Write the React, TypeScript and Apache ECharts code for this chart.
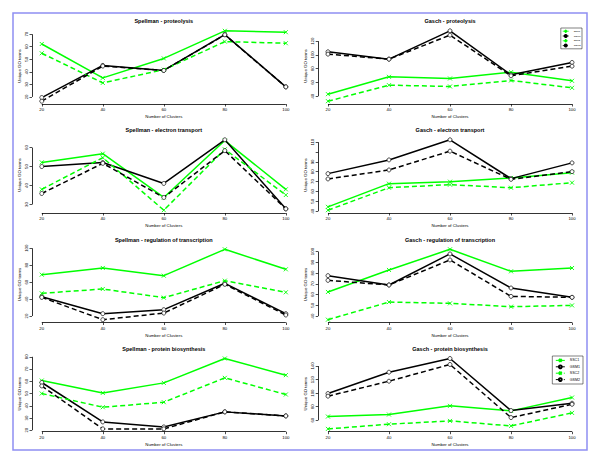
import React, { useEffect, useRef } from "react";
import * as echarts from "echarts";

const clusters = [20, 40, 60, 80, 100];
const seriesNames = ["SSC1", "GSM1", "SSC2", "GSM2"];
const panelTitles = [
  "Spellman - proteolysis",
  "Gasch - proteolysis",
  "Spellman - electron transport",
  "Gasch - electron transport",
  "Spellman - regulation of transcription",
  "Gasch - regulation of transcription",
  "Spellman - protein biosynthesis",
  "Gasch - protein biosynthesis",
];

// Spellman - proteolysis
const spProtSSC1 = [62.2, 35.2, 50.7, 72.7, 71.6];
const spProtGSM1 = [19.5, 45.1, 41.1, 69.7, 28.0];
const spProtSSC2 = [54.8, 31.2, 41.7, 64.1, 62.8];
const spProtGSM2 = [16.6, 44.6, 41.1, 69.5, 28.0];
const spProtTicks = [20, 30, 40, 50, 60, 70];

// Gasch - proteolysis
const gaProtSSC1 = [42.9, 68.1, 65.7, 74.9, 62.3];
const gaProtGSM1 = [104.5, 93.8, 135.0, 71.0, 89.0];
const gaProtSSC2 = [32.7, 56.0, 54.1, 62.8, 52.1];
const gaProtGSM2 = [101.1, 93.8, 128.7, 69.6, 83.6];
const gaProtTicks = [40, 60, 80, 100, 120];

// Spellman - electron transport
const spElecSSC1 = [52.2, 56.8, 33.7, 63.7, 38.0];
const spElecGSM1 = [50.0, 52.1, 41.1, 64.1, 27.7];
const spElecSSC2 = [38.0, 54.7, 27.0, 59.1, 35.0];
const spElecGSM2 = [35.8, 51.7, 33.7, 58.4, 27.7];
const spElecTicks = [30, 40, 50, 60];

// Gasch - electron transport
const gaElecSSC1 = [44.4, 67.9, 69.9, 73.7, 79.1];
const gaElecGSM1 = [78.1, 92.0, 112.4, 73.0, 89.0];
const gaElecSSC2 = [41.0, 63.8, 66.9, 63.8, 68.9];
const gaElecGSM2 = [72.7, 81.8, 100.9, 72.3, 80.1];
const gaElecTicks = [40, 50, 60, 70, 80, 90, 100, 110];
const gaElecLabels = [40, 50, 60, 70, 80, 90, 110];

// Spellman - regulation of transcription
const spRegSSC1 = [68.8, 76.7, 67.6, 98.7, 75.1];
const spRegGSM1 = [42.8, 22.8, 27.5, 58.6, 22.8];
const spRegSSC2 = [46.8, 51.9, 41.7, 61.7, 48.0];
const spRegGSM2 = [42.0, 15.7, 23.5, 57.4, 21.2];
const spRegTicks = [20, 40, 60, 80, 100];

// Gasch - regulation of transcription
const gaRegSSC1 = [62.4, 82.9, 102.1, 81.6, 84.7];
const gaRegGSM1 = [77.6, 68.9, 97.8, 66.1, 57.4];
const gaRegSSC2 = [36.6, 53.0, 51.8, 48.7, 49.9];
const gaRegGSM2 = [73.2, 68.9, 92.2, 58.3, 57.4];
const gaRegTicks = [40, 50, 60, 70, 80, 90, 100];

// Spellman - protein biosynthesis
const spBioSSC1 = [60.6, 50.5, 58.7, 78.6, 65.0];
const spBioGSM1 = [59.0, 26.8, 22.7, 35.0, 31.7];
const spBioSSC2 = [50.0, 38.8, 42.9, 62.8, 49.2];
const spBioGSM2 = [56.2, 21.1, 21.1, 35.0, 31.7];
const spBioTicks = [20, 30, 40, 50, 60, 70, 80];

// Gasch - protein biosynthesis
const gaBioSSC1 = [65.4, 68.4, 81.2, 73.8, 93.5];
const gaBioGSM1 = [99.4, 130.9, 151.1, 74.3, 85.1];
const gaBioSSC2 = [47.2, 54.1, 59.0, 51.6, 70.8];
const gaBioGSM2 = [95.5, 117.6, 142.3, 63.9, 83.5];
const gaBioTicks = [60, 80, 100, 120, 140];

const xTicks = [20, 40, 60, 80, 100];

const panels = [
  { series: [spProtSSC1, spProtGSM1, spProtSSC2, spProtGSM2], ticks: spProtTicks, labels: spProtTicks },
  { series: [gaProtSSC1, gaProtGSM1, gaProtSSC2, gaProtGSM2], ticks: gaProtTicks, labels: gaProtTicks },
  { series: [spElecSSC1, spElecGSM1, spElecSSC2, spElecGSM2], ticks: spElecTicks, labels: spElecTicks },
  { series: [gaElecSSC1, gaElecGSM1, gaElecSSC2, gaElecGSM2], ticks: gaElecTicks, labels: gaElecLabels },
  { series: [spRegSSC1, spRegGSM1, spRegSSC2, spRegGSM2], ticks: spRegTicks, labels: spRegTicks },
  { series: [gaRegSSC1, gaRegGSM1, gaRegSSC2, gaRegGSM2], ticks: gaRegTicks, labels: gaRegTicks },
  { series: [spBioSSC1, spBioGSM1, spBioSSC2, spBioGSM2], ticks: spBioTicks, labels: spBioTicks },
  { series: [gaBioSSC1, gaBioGSM1, gaBioSSC2, gaBioGSM2], ticks: gaBioTicks, labels: gaBioTicks },
];

const FONT = "Liberation Sans";
const GREEN = "#00ff00";
const CROSS = "path://M0,0L10,10M0,10L10,0";

const colLeft = [32, 318.2];
const rowTop = [28, 137, 246.5, 355.7];
const gridW = 263.6;
const gridH = 76;

function pad(lo: number, hi: number) {
  const r = hi - lo;
  return [lo - 0.04 * r, hi + 0.04 * r];
}

function buildOption() {
  const grids: any[] = [];
  const xAxes: any[] = [];
  const yAxes: any[] = [];
  const titles: any[] = [];
  const series: any[] = [];
  const [xLo, xHi] = pad(xTicks[0], xTicks[xTicks.length - 1]);

  panels.forEach((p, i) => {
    const col = i % 2;
    const row = Math.floor(i / 2);
    const left = colLeft[col];
    const top = rowTop[row];
    grids.push({ left, top, width: gridW, height: gridH, containLabel: false });
    titles.push({
      text: panelTitles[i],
      left: left + gridW / 2,
      top: top - 10,
      textAlign: "center",
      padding: 0,
      textStyle: { fontFamily: FONT, fontSize: 5.5, fontWeight: "bold", color: "#000" },
    });
    const all = p.series.flat();
    const [yLo, yHi] = pad(Math.min(...all), Math.max(...all));
    xAxes.push({
      type: "value",
      gridIndex: i,
      min: xLo,
      max: xHi,
      name: "Number of Clusters",
      nameLocation: "middle",
      nameGap: 10.5,
      nameTextStyle: { fontFamily: FONT, fontSize: 4.3, color: "#000" },
      axisLine: { show: false },
      splitLine: { show: false },
      axisTick: { show: true, length: 2.5, customValues: xTicks, lineStyle: { color: "#000", width: 0.7 } },
      axisLabel: { customValues: xTicks, margin: 3.5, fontFamily: FONT, fontSize: 4.3, color: "#000" },
    });
    yAxes.push({
      type: "value",
      gridIndex: i,
      min: yLo,
      max: yHi,
      name: "Unique GO terms",
      nameLocation: "middle",
      nameGap: 10.5,
      nameTextStyle: { fontFamily: FONT, fontSize: 4.3, color: "#000" },
      axisLine: { show: false },
      splitLine: { show: false },
      axisTick: { show: true, length: 2.5, customValues: p.ticks, lineStyle: { color: "#000", width: 0.7 } },
      axisLabel: { customValues: p.labels, rotate: 90, margin: 3.5, fontFamily: FONT, fontSize: 4.3, color: "#000" },
    });
    p.series.forEach((vals, k) => {
      const isGreen = k === 0 || k === 2;
      const dashed = k >= 2;
      const color = isGreen ? GREEN : "#000";
      const s: any = {
        type: "line",
        name: seriesNames[k],
        xAxisIndex: i,
        yAxisIndex: i,
        data: clusters.map((c, j) => [c, vals[j]]),
        clip: false,
        symbol: isGreen ? CROSS : "circle",
        symbolSize: 4,
        showSymbol: true,
        lineStyle: { color, width: 1.5, type: dashed ? [5, 3] : "solid" },
        itemStyle: isGreen
          ? { color, borderColor: color, borderWidth: 0.9 }
          : { color: "#fff", borderColor: "#000", borderWidth: 0.7 },
        emphasis: { disabled: true },
        silent: true,
        z: 2 + k,
      };
      if (k === 0) {
        s.markLine = {
          silent: true,
          symbol: ["none", "none"],
          label: { show: false },
          emphasis: { disabled: true },
          lineStyle: { color: "#000", width: 0.8, type: "solid" },
          data: [
            [{ coord: [xTicks[0], yLo] }, { coord: [xTicks[xTicks.length - 1], yLo] }],
            [{ coord: [xLo, p.ticks[0]] }, { coord: [xLo, p.ticks[p.ticks.length - 1]] }],
          ],
        };
      }
      series.push(s);
    });
  });

  const legendBase = {
    data: seriesNames,
    orient: "vertical",
    backgroundColor: "#fff",
    borderColor: "#000",
    borderWidth: 0.5,
    borderRadius: 0,
    selectedMode: false,
    textStyle: { fontFamily: FONT, color: "#000" },
  };

  return {
    animation: false,
    backgroundColor: "#fff",
    title: titles,
    grid: grids,
    xAxis: xAxes,
    yAxis: yAxes,
    legend: [
      {
        ...legendBase,
        right: 18,
        top: 28,
        itemWidth: 6,
        itemHeight: 2.5,
        itemGap: 0.8,
        padding: [1.2, 1.5],
        textStyle: { ...legendBase.textStyle, fontSize: 2.4 },
        lineStyle: { width: 0.8 },
      },
      {
        ...legendBase,
        right: 17,
        top: 356,
        itemWidth: 9,
        itemHeight: 3.5,
        itemGap: 1.6,
        padding: [2, 3],
        textStyle: { ...legendBase.textStyle, fontSize: 3.6 },
        lineStyle: { width: 1 },
      },
    ],
    graphic: [
      {
        type: "rect",
        shape: { x: 13, y: 13, width: 574, height: 437 },
        style: { fill: "none", stroke: "#8f8ff2", lineWidth: 1.5 },
        silent: true,
        z: 100,
      },
    ],
    series,
  };
}

export default function App() {
  const ref = useRef<HTMLDivElement>(null);
  useEffect(() => {
    if (!ref.current) return;
    const chart = echarts.init(ref.current, undefined, { renderer: "svg" });
    chart.setOption(buildOption() as any);
    return () => chart.dispose();
  }, []);
  return (
    <div
      ref={ref}
      style={{ position: "absolute", left: 0, top: 0, width: 600, height: 464, background: "#fff" }}
    />
  );
}
